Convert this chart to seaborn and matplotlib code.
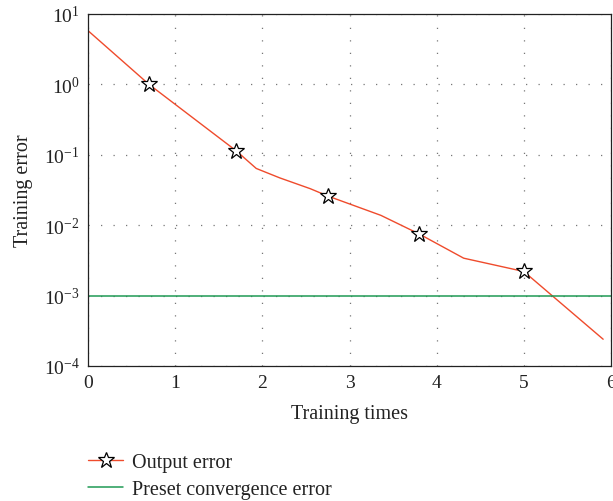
import matplotlib
matplotlib.use("Agg")
import matplotlib.pyplot as plt
import seaborn as sns
import pandas as pd
import numpy as np
from matplotlib.lines import Line2D
from matplotlib.ticker import LogLocator, NullLocator, LogFormatterMathtext

# Data
times = [0, 0.7, 1.7, 1.93, 2.2, 2.55, 2.75, 3.36, 3.8, 4.31, 5.0, 5.91]
errors = [5.8, 1.0, 0.114, 0.064, 0.047, 0.033, 0.026, 0.0138, 0.0075, 0.0034, 0.0022, 0.00024]
marker_idx = [1, 2, 6, 8, 10]
preset_level = 1e-3
x_ticks = [0, 1, 2, 3, 4, 5, 6]
series_names = ["Output error", "Preset convergence error"]

sns.set_theme(style="white")
plt.rcParams["font.family"] = ["Liberation Serif", "DejaVu Serif"]
plt.rcParams["mathtext.fontset"] = "stix"

red = "#ef4b2c"
green = "#1f9a55"

fig = plt.figure(figsize=(6.13, 5.02), dpi=100)
ax = fig.add_axes([88/613, 1-367/502, (611-88)/613, (367-15)/502])

df = pd.DataFrame({"t": times, "err": errors})
sns.lineplot(data=df, x="t", y="err", ax=ax, color=red, linewidth=1.0,
             marker="*", markevery=marker_idx, markersize=12,
             markerfacecolor="white", markeredgecolor="black", markeredgewidth=0.9,
             sort=False, estimator=None)
ax.axhline(preset_level, color=green, linewidth=1.1)

ax.set_yscale("log")
ax.set_xlim(0, 6)
ax.set_ylim(1e-4, 1e1)
ax.set_xticks(x_ticks)
ax.yaxis.set_major_locator(LogLocator(base=10, numticks=10))
ax.yaxis.set_major_formatter(LogFormatterMathtext())
ax.yaxis.set_minor_locator(NullLocator())
ax.grid(True, which="major", color="#777777", linestyle=(0, (1, 9)), linewidth=0.9)
ax.tick_params(axis="both", length=0, labelsize=14, colors="#222222", pad=6)
for s in ax.spines.values():
    s.set_color("#222222")
    s.set_linewidth(0.9)

ax.set_xlabel("Training times", fontsize=14.5, color="#222222", labelpad=9)
ax.set_ylabel("Training error", fontsize=14.5, color="#222222", labelpad=8)

handles = [
    Line2D([], [], color=red, linewidth=1.0, marker="*", markersize=12,
           markerfacecolor="white", markeredgecolor="black", markeredgewidth=0.9),
    Line2D([], [], color=green, linewidth=1.1),
]
fig.legend(handles, series_names, loc="upper left",
           bbox_to_anchor=(88/613, 1-454/502), frameon=False,
           borderpad=0, borderaxespad=0,
           fontsize=14.5, handlelength=1.75, handletextpad=0.45, labelspacing=0.38,
           labelcolor="#222222")

fig.savefig("out.png", dpi=100)
